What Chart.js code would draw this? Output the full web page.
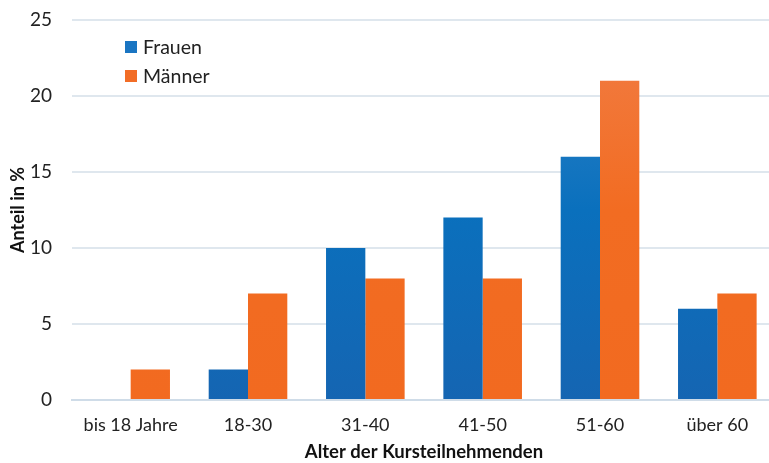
<!DOCTYPE html>
<html><head><meta charset="utf-8">
<script src="https://cdn.jsdelivr.net/npm/chart.js@4"></script>
<style>html,body{margin:0;padding:0;background:#fff;overflow:hidden}#wrap{width:769px;height:463px;overflow:hidden}</style>
</head><body><div id="wrap"><canvas id="c" width="776" height="463"></canvas></div>
<script>
const categories = ["bis 18 Jahre","18-30","31-40","41-50","51-60","über 60"];
const frauen = [0, 2, 10, 12, 16, 6];
const maenner = [2, 7, 8, 8, 21, 7];
const seriesNames = ["Frauen","Männer"];
const yTicks = [0,5,10,15,20,25];

const FONT = "Lato, 'Open Sans', sans-serif";

function grad(ctx, c1, c2, c3){
  const ch = ctx.chart; const a = ch.chartArea;
  if(!a) return c2;
  const g = ch.ctx.createLinearGradient(0, a.top, 0, a.bottom);
  g.addColorStop(0, c1); g.addColorStop(0.5, c2); g.addColorStop(1, c3);
  return g;
}

const legendPlugin = {
  id:'inLegend',
  afterDraw(chart){
    const c = chart.ctx;
    const items = [["#1a75c2", seriesNames[0], 47],["#f26d26", seriesNames[1], 76]];
    c.save();
    c.font = "19.5px " + FONT;
    c.textBaseline = 'middle';
    items.forEach(([col, t, y])=>{
      c.fillStyle = col; c.fillRect(125, y-6, 12, 12);
      c.fillStyle = '#222'; c.fillText(t, 143, y+1);
    });
    c.restore();
  }
};

new Chart(document.getElementById('c'), {
  type:'bar',
  data:{
    labels: categories,
    datasets:[
      {label:seriesNames[0], data:frauen, backgroundColor:(ctx)=>grad(ctx,'#3384c8','#0a70bd','#1565b2'), barPercentage:1, categoryPercentage:0.67},
      {label:seriesNames[1], data:maenner, backgroundColor:(ctx)=>grad(ctx,'#f17d45','#f26c22','#f26a20'), barPercentage:1, categoryPercentage:0.67}
    ]
  },
  options:{
    responsive:false, animation:false,
    layout:{padding:{top:20,right:0,left:0,bottom:0}},
    plugins:{legend:{display:false}, tooltip:{enabled:false}},
    scales:{
      x:{
        grid:{display:false},
        border:{display:true,color:'#cfdce8',width:2},
        ticks:{color:'#222',font:{family:FONT,size:18},padding:6},
        title:{display:true,text:'Alter der Kursteilnehmenden',color:'#111',font:{family:FONT,size:18.5,weight:'bold'},padding:{top:5,bottom:0}},
        afterFit(s){ s.height = 63; s.paddingLeft = 0; s.paddingRight = 0; }
      },
      y:{
        min:0,max:25,
        afterBuildTicks(s){ s.ticks = yTicks.map(v=>({value:v})); },
        grid:{color:'#dfe7ee',lineWidth:2,drawTicks:false},
        border:{display:false},
        ticks:{color:'#222',font:{family:FONT,size:19},padding:20},
        title:{display:true,text:'Anteil in %',color:'#111',font:{family:FONT,size:18,weight:'bold'},padding:{top:7,bottom:0}},
        afterFit(s){ s.width = 72; s.paddingTop = 0; s.paddingBottom = 0; }
      }
    }
  },
  plugins:[legendPlugin]
});
</script></body></html>
